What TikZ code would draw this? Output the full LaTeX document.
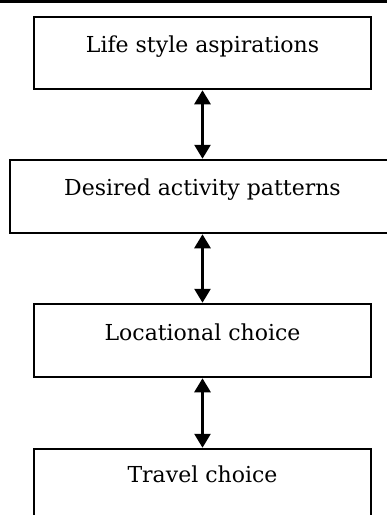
\documentclass[tikz,border=0pt]{standalone}
\usepackage{fontspec}
\setmainfont{DejaVu Serif}
\usetikzlibrary{arrows.meta}
\begin{document}
\begin{tikzpicture}[x=1pt,y=-1pt,
  box/.style={draw=black, line width=2.5pt, rectangle, inner sep=0pt},
  lbl/.style={anchor=base, inner sep=0pt, font=\fontsize{22}{24}\selectfont},
  link/.style={{Triangle[width=16pt,length=14pt]}-{Triangle[width=16pt,length=14pt]}, line width=2.6pt}]
\useasboundingbox (0,0) rectangle (387,515);
\draw[line width=3.5pt] (0,1.5) -- (387,1.5);
\node[box, minimum width=337pt, minimum height=72pt] (b1) at (202.5,53) {};
\node[box, minimum width=385pt, minimum height=73pt] (b2) at (202.5,196.5) {};
\node[box, minimum width=337pt, minimum height=73pt] (b3) at (202.5,340.5) {};
\node[box, minimum width=337pt, minimum height=73pt] (b4) at (202.5,485.5) {};
\node[lbl] (t1) at (202.5,52) {Life style aspirations};
\node[lbl] (t2) at (202.5,195) {Desired activity patterns};
\node[lbl] (t3) at (202.5,340) {Locational choice};
\node[lbl] (t4) at (202.5,482) {Travel choice};
\draw[link] (b1.south) -- (b2.north);
\draw[link] (b2.south) -- (b3.north);
\draw[link] (b3.south) -- (b4.north);
\end{tikzpicture}
\end{document}
